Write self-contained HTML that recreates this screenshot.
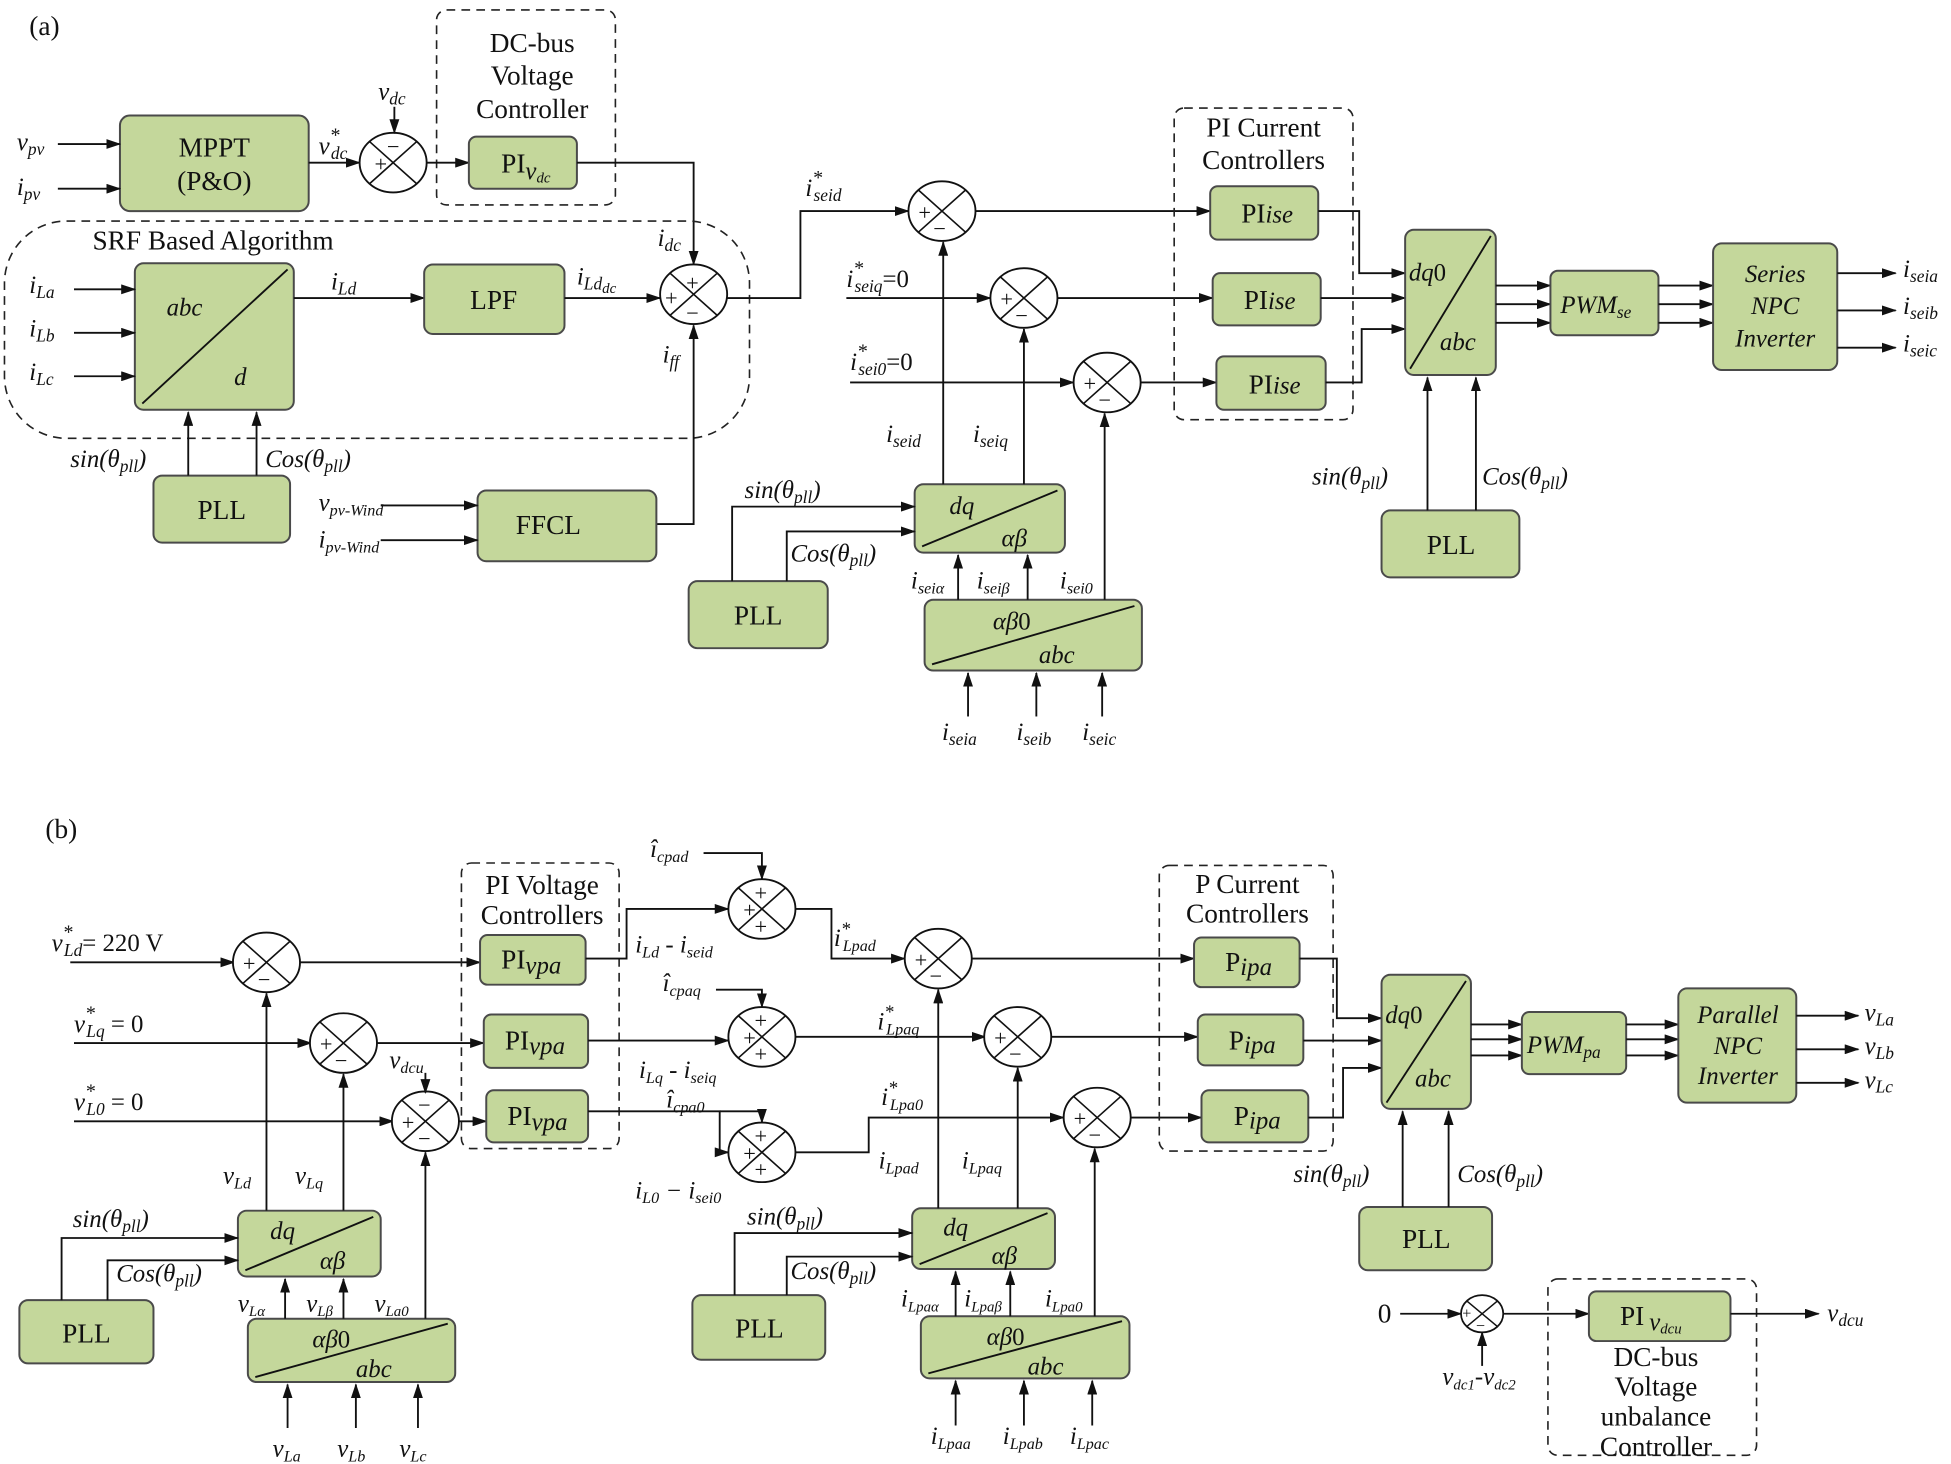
<!DOCTYPE html>
<html><head><meta charset="utf-8"><style>
html,body{margin:0;padding:0;background:#fff}
svg{display:block}
text{font-family:"Liberation Serif",serif;fill:#111}
.v{font-style:italic;font-size:20px}
.t{font-size:22px}
.b{fill:#c4d79b;stroke:#4a4a4a;stroke-width:1.6}
.l{stroke:#111;stroke-width:1.5;fill:none}
.la{stroke:#111;stroke-width:1.5;fill:none;marker-end:url(#a)}
.d{stroke:#222;stroke-width:1.3;fill:none;stroke-dasharray:7 5}
.s{font-size:18px}
</style></head><body>
<svg width="1951" height="1464" viewBox="0 0 1568 1179" xmlns="http://www.w3.org/2000/svg">
<defs>
<marker id="a" markerWidth="12" markerHeight="8" refX="11" refY="4" orient="auto" markerUnits="userSpaceOnUse"><path d="M0,0 L12,4 L0,8 Z" fill="#111"/></marker>
<g id="S"><ellipse cx="0" cy="0" rx="27" ry="24" fill="#fff" stroke="#111" stroke-width="1.5"/><path d="M-19,-17 L19,17 M19,-17 L-19,17" stroke="#111" stroke-width="1.3"/></g>
<g id="s"><ellipse cx="0" cy="0" rx="17" ry="15" fill="#fff" stroke="#111" stroke-width="1.4"/><path d="M-12,-10 L12,10 M12,-10 L-12,10" stroke="#111" stroke-width="1.2"/></g>
</defs>

<!-- ===== (a) ===== -->
<text x="22" y="28" class="t" font-size="26">(a)</text>
<rect class="b" x="95" y="93" width="152" height="77" rx="8"/>
<text x="171" y="126" class="t" text-anchor="middle">MPPT</text>
<text x="171" y="153" class="t" text-anchor="middle">(P&amp;O)</text>
<path class="la" d="M45,116 H95"/><path class="la" d="M45,152 H95"/>
<text x="12" y="121" class="v">v<tspan font-size="14" dy="4">pv</tspan></text>
<text x="12" y="157" class="v">i<tspan font-size="14" dy="4">pv</tspan></text>
<text x="255" y="124" class="v">v<tspan font-size="16" dy="-10">*</tspan><tspan font-size="14" dx="-7" dy="14">dc</tspan></text>
<path class="la" d="M247,131 H288"/>
<use href="#S" x="315" y="131"/>
<text x="300" y="138" class="s">+</text><text x="310" y="124" class="s">−</text>
<text x="303" y="80" class="v">v<tspan font-size="14" dy="4">dc</tspan></text>
<path class="la" d="M316,86 V107"/>
<rect class="d" x="350" y="8" width="144" height="157" rx="8"/>
<text x="427" y="42" class="t" text-anchor="middle">DC-bus</text>
<text x="427" y="68" class="t" text-anchor="middle">Voltage</text>
<text x="427" y="95" class="t" text-anchor="middle">Controller</text>
<path class="la" d="M342,131 H376"/>
<rect class="b" x="376" y="110" width="87" height="42" rx="6"/>
<text x="402" y="139" class="t">PI<tspan class="v" font-size="15" dy="5">v</tspan><tspan font-size="12" font-style="italic" dy="3">dc</tspan></text>
<path class="la" d="M463,131 H557 V213"/>

<rect class="d" x="2" y="178" width="600" height="175" rx="50"/>
<text x="170" y="201" class="t" text-anchor="middle">SRF Based Algorithm</text>
<rect class="b" x="107" y="212" width="128" height="118" rx="7"/>
<path class="l" d="M113,325 L230,217"/>
<text x="147" y="254" class="v" font-size="22" text-anchor="middle">abc</text>
<text x="187" y="310" class="v" font-size="22">d</text>
<path class="la" d="M58,233 H107"/><path class="la" d="M58,268 H107"/><path class="la" d="M58,303 H107"/>
<text x="22" y="236" class="v">i<tspan font-size="14" dy="4">La</tspan></text>
<text x="22" y="271" class="v">i<tspan font-size="14" dy="4">Lb</tspan></text>
<text x="22" y="306" class="v">i<tspan font-size="14" dy="4">Lc</tspan></text>
<path class="la" d="M235,240 H340"/>
<text x="265" y="233" class="v">i<tspan font-size="14" dy="4">Ld</tspan></text>
<rect class="b" x="340" y="213" width="113" height="56" rx="7"/>
<text x="396" y="249" class="t" text-anchor="middle">LPF</text>
<path class="la" d="M453,240 H530"/>
<text x="463" y="229" class="v">i<tspan font-size="14" dy="4">Ld</tspan><tspan font-size="12" dy="3">dc</tspan></text>
<use href="#S" x="557" y="237"/>
<text x="534" y="246" class="s">+</text><text x="551" y="234" class="s">+</text><text x="551" y="258" class="s">−</text>
<text x="528" y="198" class="v">i<tspan font-size="14" dy="4">dc</tspan></text>
<text x="532" y="292" class="v">i<tspan font-size="14" dy="4">ff</tspan></text>
<path class="la" d="M527,422 H557 V262"/>
<path class="la" d="M584,240 H643 V170 H730"/>
<text x="647" y="158" class="v">i<tspan font-size="16" dy="-10">*</tspan><tspan font-size="14" dx="-7" dy="14">seid</tspan></text>
<rect class="b" x="122" y="383" width="110" height="54" rx="7"/>
<text x="177" y="418" class="t" text-anchor="middle">PLL</text>
<path class="la" d="M150,383 V332"/><path class="la" d="M205,383 V332"/>
<text x="55" y="376" class="v">sin(θ<tspan font-size="14" dy="4">pll</tspan><tspan dy="-4">)</tspan></text>
<text x="212" y="376" class="v">Cos(θ<tspan font-size="14" dy="4">pll</tspan><tspan dy="-4">)</tspan></text>
<rect class="b" x="383" y="395" width="144" height="57" rx="7"/>
<text x="440" y="430" class="t" text-anchor="middle">FFCL</text>
<path class="la" d="M305,407 H383"/><path class="la" d="M305,435 H383"/>
<text x="255" y="411" class="v" font-size="18">v<tspan font-size="13" dy="4">pv-Wind</tspan></text>
<text x="255" y="441" class="v" font-size="18">i<tspan font-size="13" dy="4">pv-Wind</tspan></text>

<use href="#S" x="757" y="170"/>
<text x="738" y="177" class="s">+</text><text x="750" y="190" class="s">−</text>
<path class="la" d="M784,170 H973"/>
<text x="680" y="231" class="v">i<tspan font-size="16" dy="-10">*</tspan><tspan font-size="14" dx="-7" dy="14">seiq</tspan><tspan font-style="normal" dy="-4">=0</tspan></text>
<path class="la" d="M680,240 H796"/>
<use href="#S" x="823" y="240"/>
<text x="804" y="247" class="s">+</text><text x="816" y="260" class="s">−</text>
<path class="la" d="M850,240 H975"/>
<text x="683" y="298" class="v">i<tspan font-size="16" dy="-10">*</tspan><tspan font-size="14" dx="-7" dy="14">sei0</tspan><tspan font-style="normal" dy="-4">=0</tspan></text>
<path class="la" d="M683,308 H863"/>
<use href="#S" x="890" y="308"/>
<text x="871" y="315" class="s">+</text><text x="883" y="328" class="s">−</text>
<path class="la" d="M917,308 H978"/>
<rect class="d" x="944" y="87" width="144" height="251" rx="8"/>
<text x="1016" y="110" class="t" text-anchor="middle">PI Current</text>
<text x="1016" y="136" class="t" text-anchor="middle">Controllers</text>
<rect class="b" x="973" y="150" width="87" height="43" rx="6"/>
<rect class="b" x="975" y="220" width="87" height="42" rx="6"/>
<rect class="b" x="978" y="287" width="88" height="43" rx="6"/>
<text x="998" y="179" class="t">PI<tspan class="v" font-size="22">ise</tspan></text>
<text x="1000" y="249" class="t">PI<tspan class="v" font-size="22">ise</tspan></text>
<text x="1004" y="317" class="t">PI<tspan class="v" font-size="22">ise</tspan></text>
<path class="la" d="M1060,170 H1093 V220 H1130"/>
<path class="la" d="M1062,240 H1130"/>
<path class="la" d="M1066,308 H1095 V265 H1130"/>
<rect class="b" x="1130" y="185" width="73" height="117" rx="7"/>
<path class="l" d="M1134,297 L1199,190"/>
<text x="1133" y="226" class="v" font-size="22">dq<tspan font-style="normal">0</tspan></text>
<text x="1158" y="282" class="v" font-size="22">abc</text>
<path class="la" d="M1203,230 H1247"/><path class="la" d="M1203,245 H1247"/><path class="la" d="M1203,260 H1247"/>
<rect class="b" x="1247" y="218" width="87" height="52" rx="6"/>
<text x="1255" y="252" class="v" font-size="22">PWM<tspan font-size="14" dy="4">se</tspan></text>
<path class="la" d="M1334,230 H1378"/><path class="la" d="M1334,245 H1378"/><path class="la" d="M1334,260 H1378"/>
<rect class="b" x="1378" y="196" width="100" height="102" rx="7"/>
<text x="1428" y="227" class="v" font-size="22" text-anchor="middle">Series</text>
<text x="1428" y="253" class="v" font-size="22" text-anchor="middle">NPC</text>
<text x="1428" y="279" class="v" font-size="22" text-anchor="middle">Inverter</text>
<path class="la" d="M1478,220 H1525"/><path class="la" d="M1478,250 H1525"/><path class="la" d="M1478,280 H1525"/>
<text x="1531" y="223" class="v">i<tspan font-size="14" dy="4">seia</tspan></text>
<text x="1531" y="253" class="v">i<tspan font-size="14" dy="4">seib</tspan></text>
<text x="1531" y="283" class="v">i<tspan font-size="14" dy="4">seic</tspan></text>
<rect class="b" x="1111" y="411" width="111" height="54" rx="7"/>
<text x="1167" y="446" class="t" text-anchor="middle">PLL</text>
<path class="la" d="M1148,411 V304"/><path class="la" d="M1187,411 V304"/>
<text x="1055" y="390" class="v">sin(θ<tspan font-size="14" dy="4">pll</tspan><tspan dy="-4">)</tspan></text>
<text x="1192" y="390" class="v">Cos(θ<tspan font-size="14" dy="4">pll</tspan><tspan dy="-4">)</tspan></text>

<rect class="b" x="735" y="390" width="121" height="55" rx="7"/>
<path class="l" d="M741,440 L850,395"/>
<text x="763" y="414" class="v" font-size="22">dq</text>
<text x="805" y="440" class="v" font-size="22">αβ</text>
<rect class="b" x="553" y="468" width="112" height="54" rx="7"/>
<text x="609" y="503" class="t" text-anchor="middle">PLL</text>
<path class="la" d="M588,468 V408 H735"/><path class="la" d="M632,468 V428 H735"/>
<text x="598" y="401" class="v">sin(θ<tspan font-size="14" dy="4">pll</tspan><tspan dy="-4">)</tspan></text>
<text x="635" y="452" class="v">Cos(θ<tspan font-size="14" dy="4">pll</tspan><tspan dy="-4">)</tspan></text>
<path class="la" d="M758,390 V195"/><path class="la" d="M823,390 V265"/>
<text x="712" y="356" class="v">i<tspan font-size="14" dy="4">seid</tspan></text>
<text x="782" y="356" class="v">i<tspan font-size="14" dy="4">seiq</tspan></text>
<rect class="b" x="743" y="483" width="175" height="57" rx="7"/>
<path class="l" d="M749,535 L912,488"/>
<text x="798" y="507" class="v" font-size="22">αβ<tspan font-style="normal">0</tspan></text>
<text x="835" y="534" class="v" font-size="22">abc</text>
<path class="la" d="M770,483 V447"/><path class="la" d="M826,483 V447"/><path class="la" d="M888,483 V333"/>
<text x="732" y="474" class="v" font-size="18">i<tspan font-size="13" dy="4">seiα</tspan></text>
<text x="785" y="474" class="v" font-size="18">i<tspan font-size="13" dy="4">seiβ</tspan></text>
<text x="852" y="474" class="v" font-size="18">i<tspan font-size="13" dy="4">sei0</tspan></text>
<path class="la" d="M778,577 V542"/><path class="la" d="M833,577 V542"/><path class="la" d="M886,577 V542"/>
<text x="757" y="596" class="v">i<tspan font-size="14" dy="4">seia</tspan></text>
<text x="817" y="596" class="v">i<tspan font-size="14" dy="4">seib</tspan></text>
<text x="870" y="596" class="v">i<tspan font-size="14" dy="4">seic</tspan></text>

<!-- ===== (b) ===== -->
<text x="35" y="675" class="t" font-size="26">(b)</text>
<text x="40" y="766" class="v">v<tspan font-size="16" dy="-10">*</tspan><tspan font-size="14" dx="-7" dy="14">Ld</tspan><tspan font-style="normal" dy="-4">= 220 V</tspan></text>
<path class="la" d="M55,775 H187"/>
<use href="#S" x="213" y="775"/>
<text x="194" y="782" class="s">+</text><text x="206" y="795" class="s">−</text>
<path class="la" d="M240,775 H385"/>
<text x="58" y="831" class="v">v<tspan font-size="16" dy="-10">*</tspan><tspan font-size="14" dx="-7" dy="14">Lq</tspan><tspan font-style="normal" dy="-4"> = 0</tspan></text>
<path class="la" d="M58,840 H249"/>
<use href="#S" x="275" y="840"/>
<text x="256" y="847" class="s">+</text><text x="268" y="860" class="s">−</text>
<path class="la" d="M302,840 H388"/>
<text x="58" y="894" class="v">v<tspan font-size="16" dy="-10">*</tspan><tspan font-size="14" dx="-7" dy="14">L0</tspan><tspan font-style="normal" dy="-4"> = 0</tspan></text>
<path class="la" d="M58,903 H315"/>
<use href="#S" x="341" y="903"/>
<text x="322" y="910" class="s">+</text><text x="335" y="896" class="s">−</text><text x="335" y="923" class="s">−</text>
<text x="312" y="860" class="v" font-size="18">v<tspan font-size="13" dy="4">dcu</tspan></text>
<path class="la" d="M341,864 V880"/>
<path class="la" d="M368,903 H390"/>
<rect class="d" x="370" y="695" width="127" height="230" rx="8"/>
<text x="435" y="720" class="t" text-anchor="middle">PI Voltage</text>
<text x="435" y="744" class="t" text-anchor="middle">Controllers</text>
<rect class="b" x="385" y="753" width="85" height="40" rx="6"/>
<rect class="b" x="388" y="817" width="84" height="43" rx="6"/>
<rect class="b" x="390" y="878" width="82" height="42" rx="6"/>
<text x="402" y="780" class="t">PI<tspan class="v" font-size="14" dy="4">vpa</tspan></text>
<text x="405" y="845" class="t">PI<tspan class="v" font-size="14" dy="4">vpa</tspan></text>
<text x="407" y="906" class="t">PI<tspan class="v" font-size="14" dy="4">vpa</tspan></text>
<path class="la" d="M470,772 H503 V732 H585"/>
<text x="510" y="767" class="v" font-size="18">i<tspan font-size="13" dy="4">Ld</tspan><tspan dy="-4"> - i</tspan><tspan font-size="13" dy="4">seid</tspan></text>
<text x="522" y="690" class="v" font-size="18">î<tspan font-size="13" dy="4">cpad</tspan></text>
<path class="la" d="M565,687 H612 V708"/>
<use href="#S" x="612" y="732"/>
<text x="597" y="739" class="s">+</text><text x="606" y="725" class="s">+</text><text x="606" y="752" class="s">+</text>
<path class="la" d="M472,838 H585"/>
<text x="532" y="798" class="v" font-size="18">î<tspan font-size="13" dy="4">cpaq</tspan></text>
<path class="la" d="M575,797 H612 V811"/>
<use href="#S" x="612" y="835"/>
<text x="597" y="842" class="s">+</text><text x="606" y="828" class="s">+</text><text x="606" y="855" class="s">+</text>
<text x="513" y="868" class="v" font-size="18">i<tspan font-size="13" dy="4">Lq</tspan><tspan dy="-4"> - i</tspan><tspan font-size="13" dy="4">seiq</tspan></text>
<path class="la" d="M472,895 H578 V928 H585"/>
<text x="535" y="892" class="v" font-size="18">î<tspan font-size="13" dy="4">cpa0</tspan></text>
<path class="la" d="M578,895 H612 V904"/>
<use href="#S" x="612" y="928"/>
<text x="597" y="935" class="s">+</text><text x="606" y="921" class="s">+</text><text x="606" y="948" class="s">+</text>
<text x="510" y="965" class="v" font-size="18">i<tspan font-size="13" dy="4">L0</tspan><tspan dy="-4"> − i</tspan><tspan font-size="13" dy="4">sei0</tspan></text>
<path class="la" d="M639,732 H668 V772 H727"/>
<text x="670" y="762" class="v" font-size="18">i<tspan font-size="15" dy="-9">*</tspan><tspan font-size="13" dx="-6" dy="13">Lpad</tspan></text>
<use href="#S" x="754" y="772"/>
<text x="735" y="779" class="s">+</text><text x="747" y="792" class="s">−</text>
<path class="la" d="M781,772 H960"/>
<path class="la" d="M639,835 H792"/>
<text x="705" y="829" class="v" font-size="18">i<tspan font-size="15" dy="-9">*</tspan><tspan font-size="13" dx="-6" dy="13">Lpaq</tspan></text>
<use href="#S" x="818" y="835"/>
<text x="799" y="842" class="s">+</text><text x="811" y="855" class="s">−</text>
<path class="la" d="M845,835 H963"/>
<path class="la" d="M639,928 H698 V900 H855"/>
<text x="708" y="890" class="v" font-size="18">i<tspan font-size="15" dy="-9">*</tspan><tspan font-size="13" dx="-6" dy="13">Lpa0</tspan></text>
<use href="#S" x="882" y="900"/>
<text x="863" y="907" class="s">+</text><text x="875" y="920" class="s">−</text>
<path class="la" d="M909,900 H966"/>
<rect class="d" x="932" y="697" width="140" height="230" rx="8"/>
<text x="1003" y="719" class="t" text-anchor="middle">P Current</text>
<text x="1003" y="743" class="t" text-anchor="middle">Controllers</text>
<rect class="b" x="960" y="755" width="85" height="40" rx="6"/>
<rect class="b" x="963" y="817" width="85" height="41" rx="6"/>
<rect class="b" x="966" y="878" width="86" height="42" rx="6"/>
<text x="985" y="782" class="t">P<tspan class="v" font-size="20" dy="3">ipa</tspan></text>
<text x="988" y="845" class="t">P<tspan class="v" font-size="20" dy="3">ipa</tspan></text>
<text x="992" y="906" class="t">P<tspan class="v" font-size="20" dy="3">ipa</tspan></text>
<path class="la" d="M1045,772 H1075 V820 H1111"/>
<path class="la" d="M1048,838 H1111"/>
<path class="la" d="M1052,900 H1080 V860 H1111"/>
<rect class="b" x="1111" y="785" width="72" height="108" rx="7"/>
<path class="l" d="M1115,888 L1179,790"/>
<text x="1114" y="824" class="v" font-size="22">dq<tspan font-style="normal">0</tspan></text>
<text x="1138" y="875" class="v" font-size="22">abc</text>
<path class="la" d="M1183,825 H1224"/><path class="la" d="M1183,837 H1224"/><path class="la" d="M1183,850 H1224"/>
<rect class="b" x="1224" y="815" width="84" height="50" rx="6"/>
<text x="1228" y="848" class="v" font-size="22">PWM<tspan font-size="14" dy="4">pa</tspan></text>
<path class="la" d="M1308,825 H1350"/><path class="la" d="M1308,837 H1350"/><path class="la" d="M1308,850 H1350"/>
<rect class="b" x="1350" y="796" width="95" height="92" rx="7"/>
<text x="1398" y="824" class="v" font-size="22" text-anchor="middle">Parallel</text>
<text x="1398" y="849" class="v" font-size="22" text-anchor="middle">NPC</text>
<text x="1398" y="873" class="v" font-size="22" text-anchor="middle">Inverter</text>
<path class="la" d="M1445,818 H1495"/><path class="la" d="M1445,845 H1495"/><path class="la" d="M1445,872 H1495"/>
<text x="1500" y="822" class="v">v<tspan font-size="14" dy="4">La</tspan></text>
<text x="1500" y="849" class="v">v<tspan font-size="14" dy="4">Lb</tspan></text>
<text x="1500" y="876" class="v">v<tspan font-size="14" dy="4">Lc</tspan></text>
<rect class="b" x="1093" y="972" width="107" height="51" rx="7"/>
<text x="1147" y="1005" class="t" text-anchor="middle">PLL</text>
<path class="la" d="M1128,972 V895"/><path class="la" d="M1165,972 V895"/>
<text x="1040" y="952" class="v">sin(θ<tspan font-size="14" dy="4">pll</tspan><tspan dy="-4">)</tspan></text>
<text x="1172" y="952" class="v">Cos(θ<tspan font-size="14" dy="4">pll</tspan><tspan dy="-4">)</tspan></text>

<rect class="b" x="733" y="973" width="115" height="49" rx="7"/>
<path class="l" d="M739,1018 L842,977"/>
<text x="758" y="995" class="v" font-size="22">dq</text>
<text x="797" y="1018" class="v" font-size="22">αβ</text>
<rect class="b" x="556" y="1043" width="107" height="52" rx="7"/>
<text x="610" y="1077" class="t" text-anchor="middle">PLL</text>
<path class="la" d="M590,1043 V993 H733"/><path class="la" d="M632,1043 V1012 H733"/>
<text x="600" y="986" class="v">sin(θ<tspan font-size="14" dy="4">pll</tspan><tspan dy="-4">)</tspan></text>
<text x="635" y="1030" class="v">Cos(θ<tspan font-size="14" dy="4">pll</tspan><tspan dy="-4">)</tspan></text>
<path class="la" d="M754,973 V797"/><path class="la" d="M818,973 V860"/>
<text x="706" y="941" class="v" font-size="18">i<tspan font-size="13" dy="4">Lpad</tspan></text>
<text x="773" y="941" class="v" font-size="18">i<tspan font-size="13" dy="4">Lpaq</tspan></text>
<rect class="b" x="740" y="1060" width="168" height="50" rx="7"/>
<path class="l" d="M746,1106 L902,1064"/>
<text x="793" y="1083" class="v" font-size="22">αβ<tspan font-style="normal">0</tspan></text>
<text x="826" y="1107" class="v" font-size="22">abc</text>
<path class="la" d="M768,1060 V1024"/><path class="la" d="M812,1060 V1024"/><path class="la" d="M880,1060 V925"/>
<text x="724" y="1052" class="v" font-size="17">i<tspan font-size="12" dy="4">Lpaα</tspan></text>
<text x="775" y="1052" class="v" font-size="17">i<tspan font-size="12" dy="4">Lpaβ</tspan></text>
<text x="840" y="1052" class="v" font-size="17">i<tspan font-size="12" dy="4">Lpa0</tspan></text>
<path class="la" d="M768,1148 V1112"/><path class="la" d="M823,1148 V1112"/><path class="la" d="M878,1148 V1112"/>
<text x="748" y="1163" class="v" font-size="18">i<tspan font-size="13" dy="4">Lpaa</tspan></text>
<text x="806" y="1163" class="v" font-size="18">i<tspan font-size="13" dy="4">Lpab</tspan></text>
<text x="860" y="1163" class="v" font-size="18">i<tspan font-size="13" dy="4">Lpac</tspan></text>

<rect class="b" x="190" y="975" width="115" height="53" rx="7"/>
<path class="l" d="M196,1023 L299,980"/>
<text x="216" y="998" class="v" font-size="22">dq</text>
<text x="256" y="1022" class="v" font-size="22">αβ</text>
<rect class="b" x="14" y="1047" width="108" height="51" rx="7"/>
<text x="68" y="1081" class="t" text-anchor="middle">PLL</text>
<path class="la" d="M48,1047 V997 H190"/><path class="la" d="M85,1047 V1015 H190"/>
<text x="57" y="988" class="v">sin(θ<tspan font-size="14" dy="4">pll</tspan><tspan dy="-4">)</tspan></text>
<text x="92" y="1032" class="v">Cos(θ<tspan font-size="14" dy="4">pll</tspan><tspan dy="-4">)</tspan></text>
<path class="la" d="M213,975 V800"/><path class="la" d="M275,975 V865"/>
<text x="178" y="953" class="v" font-size="18">v<tspan font-size="13" dy="4">Ld</tspan></text>
<text x="236" y="953" class="v" font-size="18">v<tspan font-size="13" dy="4">Lq</tspan></text>
<rect class="b" x="198" y="1062" width="167" height="51" rx="7"/>
<path class="l" d="M204,1109 L359,1066"/>
<text x="250" y="1085" class="v" font-size="22">αβ<tspan font-style="normal">0</tspan></text>
<text x="285" y="1109" class="v" font-size="22">abc</text>
<path class="la" d="M228,1062 V1030"/><path class="la" d="M275,1062 V1030"/><path class="la" d="M341,1062 V928"/>
<text x="190" y="1056" class="v" font-size="17">v<tspan font-size="12" dy="4">Lα</tspan></text>
<text x="245" y="1056" class="v" font-size="17">v<tspan font-size="12" dy="4">Lβ</tspan></text>
<text x="300" y="1056" class="v" font-size="17">v<tspan font-size="12" dy="4">La0</tspan></text>
<path class="la" d="M230,1150 V1115"/><path class="la" d="M285,1150 V1115"/><path class="la" d="M335,1150 V1115"/>
<text x="218" y="1173" class="v" font-size="18">v<tspan font-size="13" dy="4">La</tspan></text>
<text x="270" y="1173" class="v" font-size="18">v<tspan font-size="13" dy="4">Lb</tspan></text>
<text x="320" y="1173" class="v" font-size="18">v<tspan font-size="13" dy="4">Lc</tspan></text>

<text x="1108" y="1065" class="t">0</text>
<path class="la" d="M1126,1058 H1175"/>
<use href="#s" x="1192" y="1058"/>
<text x="1176" y="1062" font-size="13">+</text><text x="1187" y="1072" font-size="13">−</text>
<path class="la" d="M1192,1100 V1073"/>
<text x="1160" y="1115" class="v" font-size="17">v<tspan font-size="12" dy="4">dc1</tspan><tspan dy="-4">-v</tspan><tspan font-size="12" dy="4">dc2</tspan></text>
<path class="la" d="M1209,1058 H1278"/>
<rect class="d" x="1245" y="1030" width="168" height="142" rx="8"/>
<rect class="b" x="1278" y="1040" width="114" height="40" rx="6"/>
<text x="1303" y="1067" class="t">PI<tspan class="v" font-size="16" dx="4" dy="4">v</tspan><tspan font-size="12" font-style="italic" dy="3">dcu</tspan></text>
<path class="la" d="M1392,1058 H1463"/>
<text x="1470" y="1064" class="v">v<tspan font-size="14" dy="4">dcu</tspan></text>
<text x="1332" y="1100" class="t" text-anchor="middle">DC-bus</text>
<text x="1332" y="1124" class="t" text-anchor="middle">Voltage</text>
<text x="1332" y="1148" class="t" text-anchor="middle">unbalance</text>
<text x="1332" y="1172" class="t" text-anchor="middle">Controller</text>
</svg>
</body></html>
